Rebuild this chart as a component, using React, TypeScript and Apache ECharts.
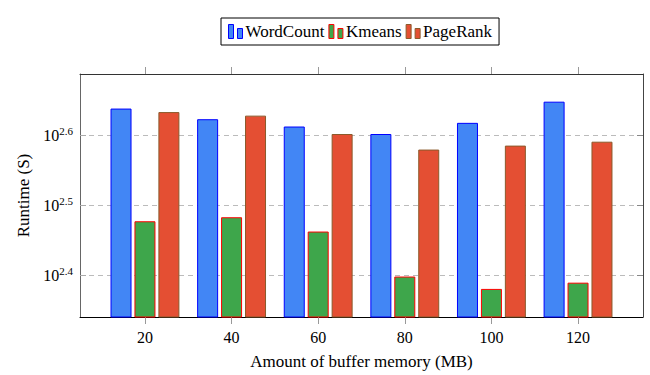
import React, { useEffect, useRef } from "react";
import * as echarts from "echarts";

const categories = [20, 40, 60, 80, 100, 120];
const wordCount = [435, 420, 410, 400, 415, 445];
const kmeans = [300, 304, 290, 250, 240, 245];
const pageRank = [430, 425, 400, 380, 385, 390];
const yTickExponents = [2.4, 2.5, 2.6];
const yExpRange = [2.34, 2.688];
const xRange = [5, 135];
const seriesNames = ["WordCount", "Kmeans", "PageRank"];

const FONT = '"Liberation Serif", "DejaVu Serif", serif';

const STYLES = [
  { color: "#4286F5", borderColor: "#0000FF", borderWidth: 1 },
  { color: "#3EA64B", borderColor: "#FF0000", borderWidth: 1 },
  { color: "#E44F33", borderColor: "#8B5A2B", borderWidth: 1 },
];

export default function App() {
  const ref = useRef<HTMLDivElement>(null);
  useEffect(() => {
    if (!ref.current) return;
    const chart = echarts.init(ref.current, null, { renderer: "svg" });
    const yTicks = yTickExponents.map((e) => Math.pow(10, e));
    const yMin = Math.pow(10, yExpRange[0]);
    const yMax = Math.pow(10, yExpRange[1]);
    const toPairs = (arr: number[]) => categories.map((c, i) => [c, arr[i]]);
    const legendIcon = "path://M0,0H5V14H0Z M9,4H14V14H9Z";
    const yLabelFmt = (v: number) => {
      const e = Math.round(Math.log10(v) * 10) / 10;
      return "{b|10}{s|" + e.toFixed(1) + "}";
    };
    const seriesData = [wordCount, kmeans, pageRank];
    chart.setOption({
      animation: false,
      backgroundColor: "#fff",
      textStyle: { fontFamily: FONT },
      legend: {
        top: 18,
        left: 221,
        orient: "horizontal",
        borderColor: "#000",
        borderWidth: 1,
        padding: [5, 7],
        itemGap: 4,
        itemWidth: 14,
        itemHeight: 14,
        icon: legendIcon,
        textStyle: { fontFamily: FONT, fontSize: 17, color: "#000", padding: [0, 0, 0, -2] },
        data: seriesNames.map((n, i) => ({ name: n, itemStyle: { ...STYLES[i] } })),
      },
      grid: { left: 80, right: 7, top: 74, bottom: 56, containLabel: false },
      xAxis: [
        {
          type: "value",
          position: "bottom",
          min: xRange[0],
          max: xRange[1],
          name: "Amount of buffer memory (MB)",
          nameLocation: "middle",
          nameGap: 36,
          nameTextStyle: { fontFamily: FONT, fontSize: 17, color: "#000" },
          axisLine: { show: true, onZero: false, lineStyle: { color: "#000", width: 1 } },
          axisTick: { show: true, inside: false, length: 7, customValues: categories, lineStyle: { color: "#999" } },
          axisLabel: { show: true, customValues: categories, margin: 12, fontFamily: FONT, fontSize: 16, color: "#000" },
          splitLine: { show: false },
        },
        {
          type: "value",
          position: "top",
          min: xRange[0],
          max: xRange[1],
          axisLine: { show: true, onZero: false, lineStyle: { color: "#333", width: 1 } },
          axisTick: { show: true, inside: false, length: 7, customValues: categories, lineStyle: { color: "#999" } },
          axisLabel: { show: false },
          splitLine: { show: false },
        },
      ],
      yAxis: [
        {
          type: "log",
          logBase: 10,
          position: "left",
          min: yMin,
          max: yMax,
          name: "Runtime (S)",
          nameLocation: "middle",
          nameRotate: 90,
          nameGap: 47,
          nameTextStyle: { fontFamily: FONT, fontSize: 17, color: "#000" },
          axisLine: { show: true, onZero: false, lineStyle: { color: "#666", width: 1 } },
          axisTick: { show: true, inside: true, length: 6, customValues: yTicks, lineStyle: { color: "#aaa" } },
          axisLabel: {
            show: true,
            customValues: yTicks,
            margin: 7,
            formatter: yLabelFmt,
            rich: {
              b: { fontFamily: FONT, fontSize: 16, color: "#000" },
              s: { fontFamily: FONT, fontSize: 11, color: "#000", padding: [0, 0, 9, 0] },
            },
          },
          splitLine: { show: true, lineStyle: { color: "#bbb", type: [5, 4], width: 1 } },
        },
        {
          type: "log",
          logBase: 10,
          position: "right",
          min: yMin,
          max: yMax,
          axisLine: { show: true, onZero: false, lineStyle: { color: "#444", width: 1 } },
          axisTick: { show: true, inside: true, length: 6, customValues: yTicks, lineStyle: { color: "#888" } },
          axisLabel: { show: false },
          splitLine: { show: false },
        },
      ],
      series: seriesNames.map((n, i) => ({
        name: n,
        type: "bar",
        xAxisIndex: 0,
        yAxisIndex: 0,
        barWidth: 21,
        barGap: "14%",
        data: toPairs(seriesData[i]),
        itemStyle: { ...STYLES[i] },
      })),
    });
    return () => chart.dispose();
  }, []);
  return (
    <div
      ref={ref}
      style={{ position: "fixed", left: 0, top: 0, width: 650, height: 375, background: "#fff" }}
    />
  );
}
